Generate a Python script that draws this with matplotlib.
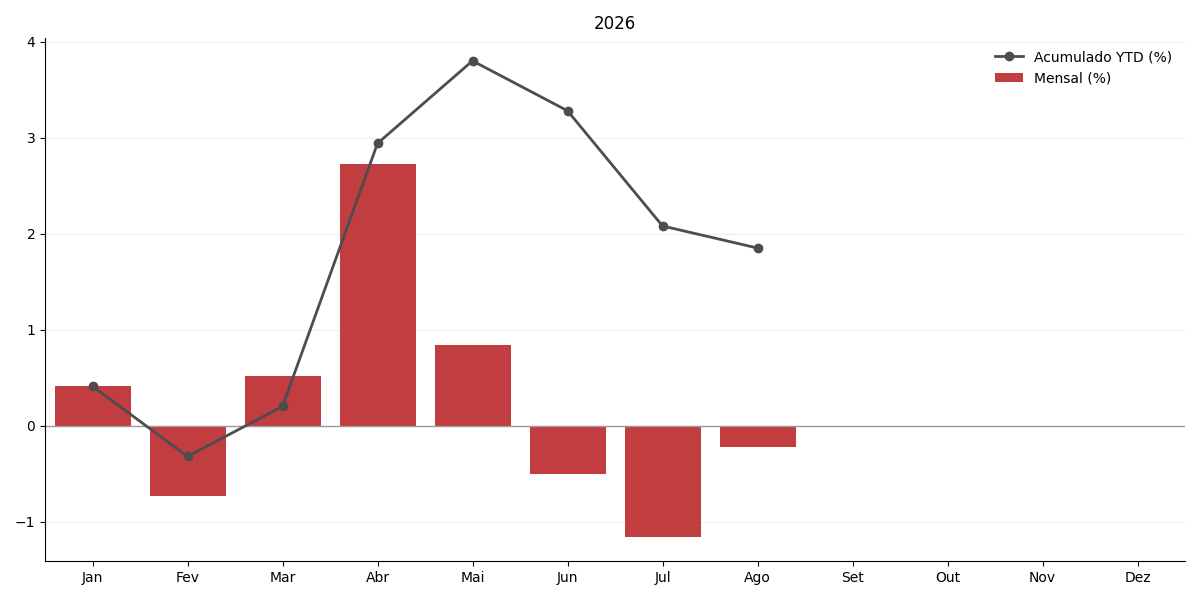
import matplotlib.pyplot as plt
import numpy as np

meses = ['Jan', 'Fev', 'Mar', 'Abr', 'Mai', 'Jun', 'Jul', 'Ago', 'Set', 'Out', 'Nov', 'Dez']
mensal = [0.41, -0.73, 0.52, 2.73, 0.84, -0.50, -1.16, -0.22]
acumulado = [0.41, -0.32, 0.20, 2.94, 3.80, 3.28, 2.08, 1.85]

x_all = np.arange(len(meses))
x = np.arange(len(mensal))

fig, ax = plt.subplots(figsize=(12, 6), dpi=100)

ax.bar(x, mensal, width=0.8, color='#c23d3f', label='Mensal (%)', zorder=2)
ax.plot(x, acumulado, color='#4d4d4d', linewidth=2, marker='o', markersize=6,
        label='Acumulado YTD (%)', zorder=3)
ax.axhline(0, color='#999999', linewidth=1, zorder=2.5)

ax.set_xticks(x_all)
ax.set_xticklabels(meses)
ax.set_xlim(-0.5, 11.5)
ax.set_ylim(-1.41, 4.04)
ax.set_title('2026')

ax.yaxis.grid(True, color='#eeeeee', linewidth=0.8, zorder=0)
ax.set_axisbelow(True)
ax.spines['top'].set_visible(False)
ax.spines['right'].set_visible(False)

ax.legend(frameon=False, loc='upper right')

fig.subplots_adjust(left=0.0375, right=0.9875, top=0.937, bottom=0.065)
fig.savefig('out.png')
